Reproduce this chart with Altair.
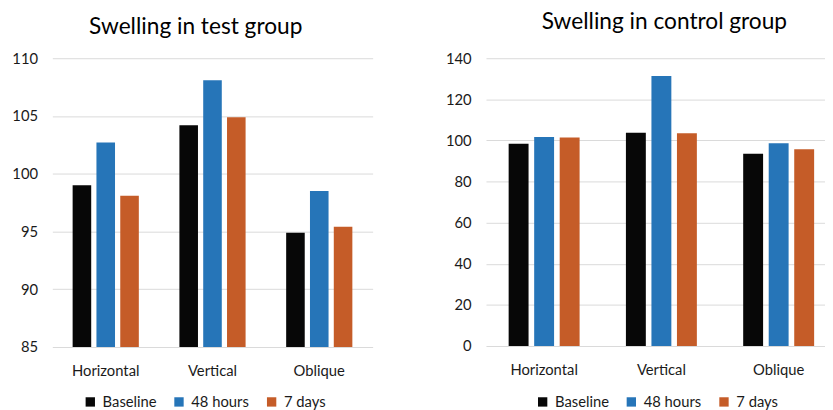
import altair as alt
import pandas as pd

categories = ["Horizontal", "Vertical", "Oblique"]
series = ["Baseline", "48 hours", "7 days"]

test_baseline = [99.0, 104.2, 94.9]
test_48h = [102.7, 108.1, 98.5]
test_7d = [98.1, 104.9, 95.4]

control_baseline = [98.4, 103.8, 93.5]
control_48h = [101.7, 131.4, 98.6]
control_7d = [101.4, 103.5, 95.7]

test_ticks = [85, 90, 95, 100, 105, 110]
control_ticks = [0, 20, 40, 60, 80, 100, 120, 140]

colors = ["#070707", "#2675B8", "#C55C28"]
FONT = "Lato"
TEXT = "#1a1a1a"


def frame(b, h, d):
    rows = []
    for i, c in enumerate(categories):
        for s, vals in zip(series, (b, h, d)):
            rows.append({"Category": c, "Series": s, "Value": vals[i]})
    return pd.DataFrame(rows)


def panel(df, title, ticks, width, height, xscale, legend_xy, title_offset, title_dx):
    return (
        alt.Chart(df)
        .mark_bar()
        .encode(
            x=alt.X(
                "Category:N",
                sort=categories,
                scale=alt.Scale(**xscale),
                axis=alt.Axis(
                    title=None, labelAngle=0, ticks=False, domain=False,
                    labelPadding=17, labelFontSize=15, labelFont=FONT,
                    labelColor=TEXT, grid=False,
                ),
            ),
            xOffset=alt.XOffset(
                "Series:N", sort=series,
                scale=alt.Scale(paddingInner=0.22, paddingOuter=0),
            ),
            y=alt.Y(
                "Value:Q",
                scale=alt.Scale(domain=[ticks[0], ticks[-1]], nice=False, zero=False),
                axis=alt.Axis(
                    values=ticks, title=None, ticks=False, domain=False,
                    labelPadding=15, labelFontSize=15, labelFont=FONT,
                    labelColor=TEXT, grid=True, gridColor="#d9d9d9",
                    gridWidth=1,
                ),
            ),
            y2=alt.datum(ticks[0]),
            color=alt.Color(
                "Series:N",
                sort=series,
                scale=alt.Scale(domain=series, range=colors),
                legend=alt.Legend(
                    title=None, orient="none", direction="horizontal",
                    legendX=legend_xy[0], legendY=legend_xy[1],
                    symbolType="square", symbolSize=90, symbolStrokeWidth=0,
                    labelFontSize=15, labelFont=FONT, labelColor=TEXT,
                    columnPadding=15, labelOffset=5,
                ),
            ),
        )
        .properties(
            width=width,
            height=height,
            title=alt.Title(
                title, fontSize=23, font=FONT, fontWeight="normal",
                color="#000000", anchor="middle", offset=title_offset,
                dx=title_dx,
            ),
        )
    )


left = panel(
    frame(test_baseline, test_48h, test_7d),
    "Swelling in test group", test_ticks, 325, 293,
    dict(paddingInner=0.38, paddingOuter=0.19), (31, 341), 13, -17,
)
right = panel(
    frame(control_baseline, control_48h, control_7d),
    "Swelling in control group", control_ticks, 344, 292,
    dict(paddingInner=0.395, paddingOuter=0.143, align=0.676), (50, 341), 18, 9,
)

chart = (
    alt.hconcat(left, right, spacing=73)
    .resolve_scale(color="independent", xOffset="independent",
                   x="independent", y="independent")
    .properties(padding={"left": 3, "top": 0, "right": 0, "bottom": 0})
    .configure_view(stroke=None)
)

chart.save("out.html", embed_options={"renderer": "svg", "actions": False})
